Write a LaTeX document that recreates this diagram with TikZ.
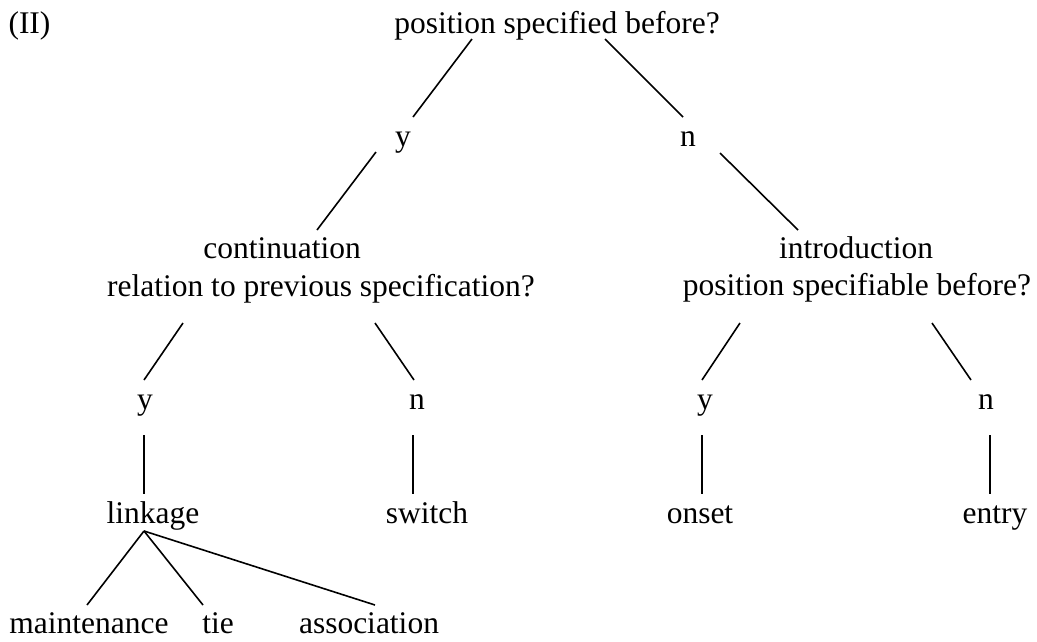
\documentclass[tikz,border=0pt]{standalone}
\usepackage{fontspec}
\setmainfont{Liberation Serif}
\begin{document}
\begin{tikzpicture}[x=1pt,y=-1pt,
  txt/.style={anchor=base,inner sep=0pt,font=\fontsize{31.5}{38}\selectfont},
  leaf/.style={txt,text depth=0pt},
  edge/.style={line width=1.6pt,line cap=butt}]
\useasboundingbox (0,0) rectangle (1037,641);
% texts
\node[txt] (II) at (29.5,33) {(II)};
\node[txt] (root) at (557,33) {position specified before?};
\node[txt] (y1) at (403,146) {y};
\node[txt] (n1) at (688,146) {n};
\node[txt] (cont) at (282,258) {continuation};
\node[txt] (contq) at (321,296) {relation to previous specification?};
\node[txt] (intro) at (856,258) {introduction};
\node[txt] (introq) at (857,295) {position specifiable before?};
\node[txt] (y2) at (145,409) {y};
\node[txt] (n2) at (417,409) {n};
\node[txt] (y3) at (705,409) {y};
\node[txt] (n3) at (986,409) {n};
\node[txt] (link) at (153,523) {linkage};
\node[txt] (switch) at (427,523) {switch};
\node[txt] (onset) at (700,523) {onset};
\node[txt] (entry) at (995,523) {entry};
\node[leaf] (maint) at (89,633) {maintenance};
\node[leaf] (tie) at (218,633) {tie};
\node[leaf] (assoc) at (369,633) {association};
% connector end points
\coordinate (root-l) at (472,39);  \coordinate (y1-t) at (413,117);
\coordinate (root-r) at (605,39);  \coordinate (n1-t) at (683,117);
\coordinate (y1-b) at (376,152);   \coordinate (cont-t) at (317,230);
\coordinate (n1-b) at (720,153);   \coordinate (intro-t) at (798,230);
\coordinate (contq-l) at (183,323); \coordinate (y2-t) at (144,380);
\coordinate (contq-r) at (375,323); \coordinate (n2-t) at (414,380);
\coordinate (introq-l) at (740,323); \coordinate (y3-t) at (702,380);
\coordinate (introq-r) at (932,323); \coordinate (n3-t) at (971,380);
\coordinate (y2-b) at (144,435);   \coordinate (link-t) at (144,494);
\coordinate (n2-b) at (413,435);   \coordinate (switch-t) at (413,494);
\coordinate (y3-b) at (702,435);   \coordinate (onset-t) at (702,494);
\coordinate (n3-b) at (990,435);   \coordinate (entry-t) at (990,494);
\coordinate (link-b) at (144,531);
\coordinate (maint-t) at (87,605);
\coordinate (tie-t) at (203,605);
\coordinate (assoc-t) at (375,605);
% connectors
\draw[edge] (root-l) -- (y1-t);
\draw[edge] (root-r) -- (n1-t);
\draw[edge] (y1-b) -- (cont-t);
\draw[edge] (n1-b) -- (intro-t);
\draw[edge] (contq-l) -- (y2-t);
\draw[edge] (contq-r) -- (n2-t);
\draw[edge] (introq-l) -- (y3-t);
\draw[edge] (introq-r) -- (n3-t);
\draw[edge] (y2-b) -- (link-t);
\draw[edge] (n2-b) -- (switch-t);
\draw[edge] (y3-b) -- (onset-t);
\draw[edge] (n3-b) -- (entry-t);
\draw[edge] (link-b) -- (maint-t);
\draw[edge] (link-b) -- (tie-t);
\draw[edge] (link-b) -- (assoc-t);
\end{tikzpicture}
\end{document}
